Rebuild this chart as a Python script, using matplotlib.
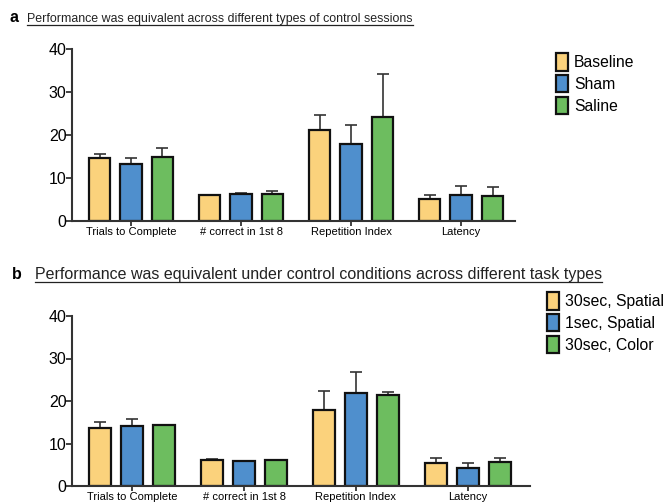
import numpy as np
import matplotlib
matplotlib.use('Agg')
import matplotlib.pyplot as plt
from matplotlib.lines import Line2D

plt.rcParams['font.family'] = ['Liberation Sans', 'DejaVu Sans']

categories = ['Trials to Complete', '# correct in 1st 8', 'Repetition Index', 'Latency']

# panel a: control session types
labels_a = ['Baseline', 'Sham', 'Saline']
baseline_mean = [14.6, 6.0, 21.1, 5.1]
baseline_err = [1.0, 0.1, 3.5, 0.9]
sham_mean = [13.2, 6.2, 17.9, 6.0]
sham_err = [1.4, 0.2, 4.4, 2.1]
saline_mean = [15.0, 6.2, 24.2, 5.7]
saline_err = [2.0, 0.7, 10.0, 2.2]

# panel b: task types
labels_b = ['30sec, Spatial', '1sec, Spatial', '30sec, Color']
sp30_mean = [13.7, 6.2, 17.9, 5.3]
sp30_err = [1.4, 0.1, 4.4, 1.2]
sp1_mean = [14.1, 5.8, 21.8, 4.2]
sp1_err = [1.6, 0.2, 5.0, 1.2]
col30_mean = [14.3, 6.1, 21.3, 5.6]
col30_err = [0.1, 0.1, 0.9, 0.9]

colors = ['#FBD27C', '#4F8FCD', '#6DBD5F']
W, H = 666, 504


def panel(rect, means, errs, labels, xlim, leg_anchor):
    ax = fig.add_axes(rect)
    x = np.arange(len(categories))
    width = 0.195
    off = 0.286
    handles = []
    for i in range(3):
        b = ax.bar(x + (i - 1) * off, means[i], width, color=colors[i],
                   edgecolor='#111111', linewidth=1.6, label=labels[i], zorder=2)
        ax.errorbar(x + (i - 1) * off, means[i], yerr=[np.zeros(4), errs[i]],
                    fmt='none', ecolor='#333333', elinewidth=1.2, capsize=4,
                    capthick=1.2, zorder=1)
        handles.append(b)
    ax.set_ylim(0, 40)
    ax.set_xlim(*xlim)
    ax.set_yticks([0, 10, 20, 30, 40])
    ax.set_xticks(x)
    ax.set_xticklabels(categories, fontsize=8.0)
    ax.tick_params(axis='y', labelsize=11.5, length=4, width=1.3, pad=0, color='#333333')
    ax.tick_params(axis='x', length=3.5, width=1.3, pad=0.5, color='#333333')
    for s in ['top', 'right']:
        ax.spines[s].set_visible(False)
    for s in ['left', 'bottom']:
        ax.spines[s].set_linewidth(1.5)
        ax.spines[s].set_color('#333333')
    fig.legend(handles=handles, loc='upper left', bbox_to_anchor=leg_anchor,
               frameon=False, fontsize=11.3, handlelength=0.75, handleheight=1.35,
               handletextpad=0.4, labelspacing=0.27, borderaxespad=0, borderpad=0)
    return ax


def title(x_letter, x_text, y, letter, text, size):
    fig.text(x_letter / W, 1 - y / H, letter, fontsize=11.5, fontweight='bold', va='baseline')
    t = fig.text(x_text / W, 1 - y / H, text, fontsize=size, va='baseline', color='#222222')
    fig.canvas.draw()
    bb = t.get_window_extent()
    yl = 1 - (y + 2.5) / H
    fig.add_artist(Line2D([bb.x0 / W, bb.x1 / W], [yl, yl], color='#222222', lw=0.9,
                          transform=fig.transFigure))


fig = plt.figure(figsize=(6.66, 5.04), dpi=100)

panel([72 / W, 1 - 221 / H, (515 - 72) / W, 172 / H],
      [baseline_mean, sham_mean, saline_mean], [baseline_err, sham_err, saline_err],
      labels_a, (-0.536, 3.49), (556 / W, 1 - 53 / H))
panel([72 / W, 1 - 486 / H, (530 - 72) / W, 170 / H],
      [sp30_mean, sp1_mean, col30_mean], [sp30_err, sp1_err, col30_err],
      labels_b, (-0.539, 3.557), (547 / W, 1 - 292 / H))

title(10, 27, 22, 'a', 'Performance was equivalent across different types of control sessions', 8.9)
title(12, 35, 279, 'b', 'Performance was equivalent under control conditions across different task types', 11.5)

fig.savefig('out.png', dpi=100)
